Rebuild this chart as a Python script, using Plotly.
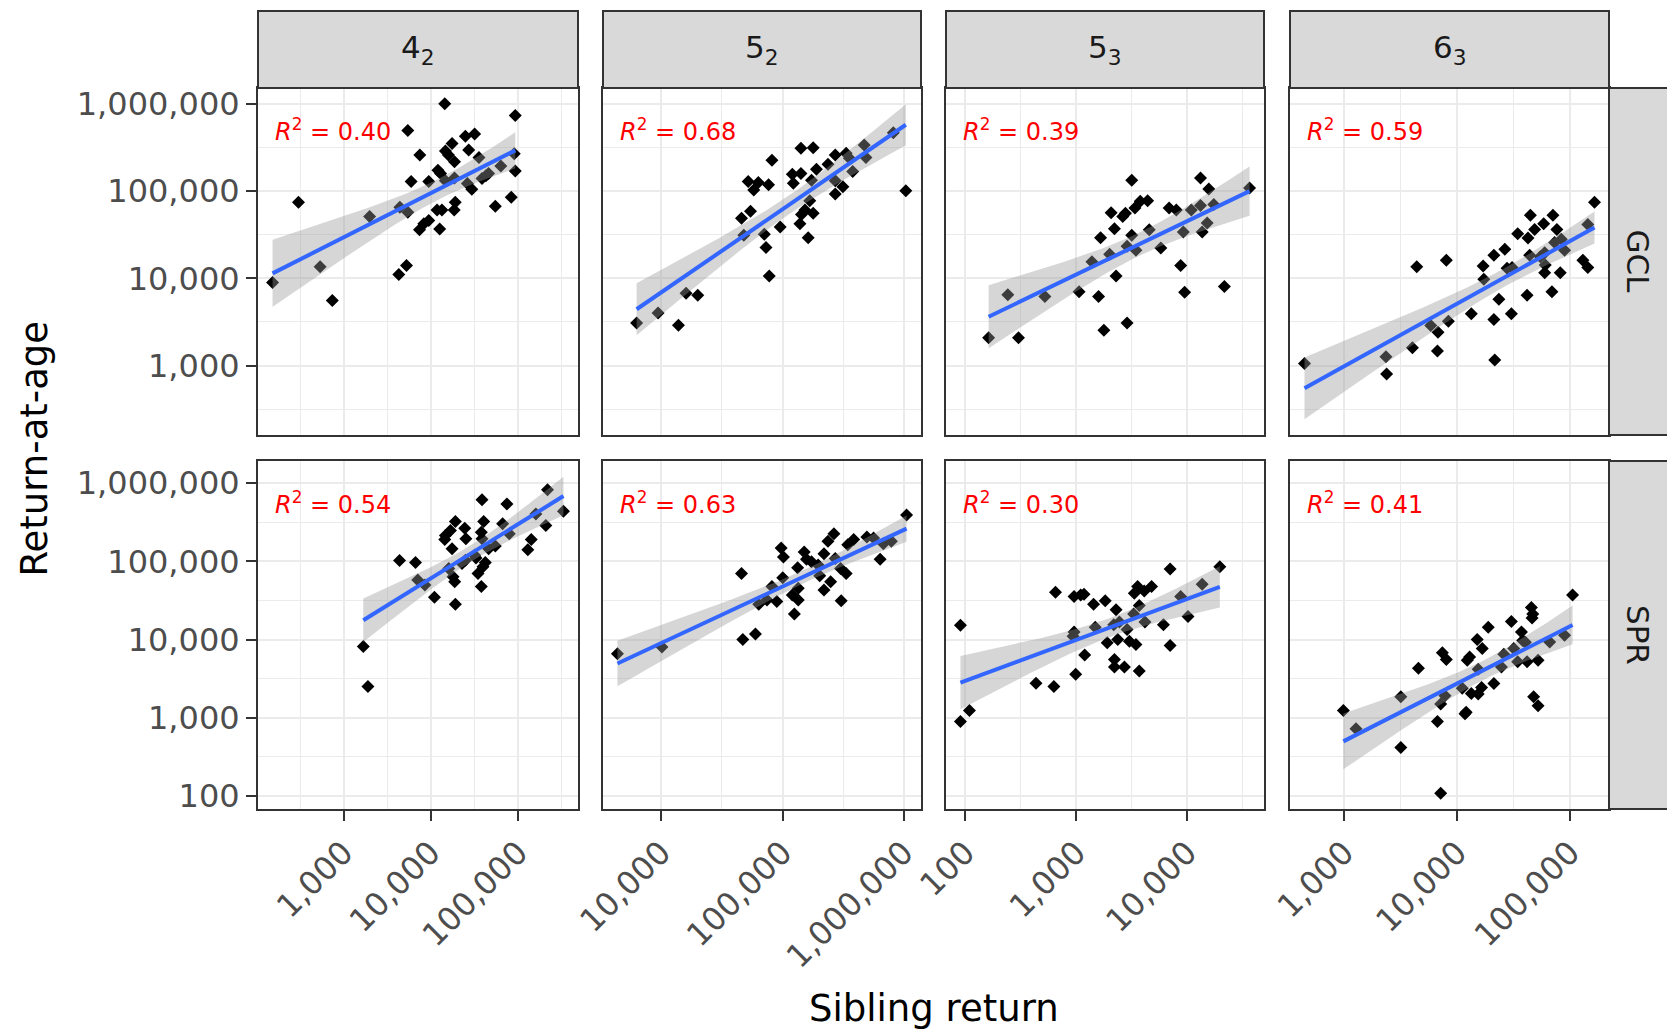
import numpy as np
import plotly.graph_objects as go

W, H = 1667, 1033

# ---------------- data (log10 of counts) ----------------
ROW_LABELS = ["GCL", "SPR"]
COL_LABELS = ["4<sub>2</sub>", "5<sub>2</sub>", "5<sub>3</sub>", "6<sub>3</sub>"]
R2_GCL = ["0.40", "0.68", "0.39", "0.59"]
R2_SPR = ["0.54", "0.63", "0.30", "0.41"]

X_TICKS = [[1e3, 1e4, 1e5], [1e4, 1e5, 1e6], [1e2, 1e3, 1e4], [1e3, 1e4, 1e5]]
Y_TICKS = [1e2, 1e3, 1e4, 1e5, 1e6]

GCL_42_sib_log10 = [4.158, 4.966, 3.735, 3.872, 4.242, 4.394, 4.50, 4.432, 4.166, 4.20, 4.27, 4.55, 4.954, 4.80, 4.966,
                    4.08, 4.11, 4.166, 4.27, 3.773, 3.975, 4.417, 4.468, 4.63, 4.66, 4.585, 4.92, 4.737, 4.278, 4.266,
                    4.126, 4.07, 3.735, 3.644, 3.975, 3.918, 3.869, 4.10, 3.297, 2.482, 3.72, 3.632, 2.73, 2.185, 2.87]
GCL_42_ret_log10 = [6.0, 5.867, 5.693, 5.413, 5.545, 5.629, 5.655, 5.47, 5.458, 5.413, 5.337, 5.383, 5.428, 5.288, 5.231,
                    5.239, 5.20, 5.117, 5.148, 5.11, 5.11, 5.087, 5.02, 5.174, 5.20, 5.144, 4.928, 4.826, 4.871, 4.784,
                    4.784, 4.784, 4.758, 4.814, 4.663, 4.625, 4.557, 4.564, 4.708, 4.871, 4.148, 4.045, 4.133, 3.951, 3.746]

GCL_52_sib_log10 = [3.796, 3.973, 4.141, 4.204, 4.30, 4.89, 4.863, 4.849, 4.68, 4.661, 4.735, 4.98, 4.912, 4.716, 4.80,
                    4.884, 4.762, 5.088, 5.151, 5.252, 5.151, 5.279, 5.238, 5.224, 5.184, 5.156, 5.143, 5.252, 5.211,
                    5.374, 5.434, 5.524, 5.434, 5.434, 5.497, 5.578, 5.551, 5.673, 5.687, 5.913, 6.016, 5.08]
GCL_52_ret_log10 = [3.489, 3.602, 3.462, 3.83, 3.807, 4.027, 4.352, 4.504, 4.492, 4.689, 4.769, 4.587, 5.352, 5.11, 5.098,
                    5.072, 5.011, 5.09, 5.489, 5.496, 5.201, 5.25, 5.125, 4.89, 4.784, 4.731, 4.625, 4.746, 4.466,
                    5.307, 5.413, 5.432, 5.117, 4.966, 5.049, 5.223, 5.375, 5.527, 5.383, 5.667, 5.004, 5.193]

GCL_53_sib_log10 = [2.209, 2.478, 2.382, 2.716, 3.024, 3.20, 3.248, 3.457, 3.358, 3.14, 3.30, 3.218, 3.343, 3.313, 3.418,
                    3.442, 3.499, 3.528, 3.576, 3.642, 3.499, 3.457, 3.537, 3.657, 3.761, 3.836, 3.901, 3.964, 3.94,
                    3.976, 4.036, 4.119, 4.119, 4.194, 4.239, 4.179, 4.134, 4.334, 4.561]
GCL_53_ret_log10 = [3.318, 3.318, 3.811, 3.792, 3.845, 3.792, 3.405, 3.489, 4.027, 4.189, 4.277, 4.466, 4.568, 4.75, 4.708,
                    4.746, 5.125, 4.807, 4.883, 4.89, 4.492, 4.367, 4.322, 4.557, 4.348, 4.807, 4.784, 4.53, 4.148,
                    3.841, 4.784, 4.833, 5.148, 5.023, 4.845, 4.633, 4.53, 3.905, 5.034]

GCL_63_sib_log10 = [2.647, 3.368, 3.374, 3.603, 3.824, 3.765, 3.829, 3.921, 3.641, 3.903, 4.124, 4.324, 4.332, 4.479, 4.368,
                    4.618, 4.838, 4.229, 4.235, 4.324, 4.421, 4.441, 4.485, 4.535, 4.626, 4.641, 4.647, 4.685, 4.765,
                    4.774, 4.779, 4.774, 4.847, 4.882, 4.862, 4.921, 4.95, 4.912, 5.112, 5.156, 5.156, 5.215, 4.735]
GCL_63_ret_log10 = [3.023, 3.102, 2.902, 3.205, 3.167, 3.458, 3.383, 3.508, 4.133, 4.208, 3.595, 3.527, 3.064, 3.595, 3.761,
                    3.807, 3.845, 4.14, 3.989, 4.265, 4.333, 4.114, 4.125, 4.511, 4.462, 4.265, 4.723, 4.56, 4.624,
                    4.292, 4.152, 4.064, 4.723, 4.56, 4.409, 4.447, 4.322, 4.064, 4.208, 4.125, 4.617, 4.871, 4.246]

SPR_42_sib_log10 = [3.225, 3.278, 3.64, 3.823, 3.849, 3.93, 4.04, 4.28, 4.272, 4.253, 4.204, 4.158, 4.223, 4.28, 4.242,
                    4.387, 4.40, 4.394, 4.50, 4.539, 4.516, 4.577, 4.585, 4.604, 4.577, 4.585, 4.623, 4.596, 4.661,
                    4.737, 4.821, 4.87, 4.897, 5.11, 5.149, 5.202, 5.316, 5.335, 5.518, 4.166, 4.356]
SPR_42_ret_log10 = [3.911, 3.40, 5.011, 4.985, 4.761, 4.698, 4.541, 4.452, 4.74, 4.803, 4.909, 5.281, 5.395, 5.51, 5.163,
                    5.425, 5.29, 5.015, 5.078, 4.846, 5.044, 4.677, 5.789, 5.51, 5.374, 5.29, 4.985, 4.93, 5.163,
                    5.197, 5.48, 5.734, 5.353, 5.15, 5.281, 5.607, 5.459, 5.915, 5.641, 5.332, 4.973]

SPR_52_sib_log10 = [3.638, 4.005, 4.672, 4.776, 4.661, 4.803, 4.871, 4.912, 4.952, 4.988, 5.007, 5.001, 5.097, 5.08, 5.129,
                    5.129, 5.124, 5.178, 5.197, 5.238, 5.306, 5.341, 5.396, 5.341, 5.374, 5.423, 5.434, 5.478, 5.524,
                    5.483, 5.537, 5.586, 5.695, 5.75, 5.804, 5.831, 5.897, 6.022, 5.293]
SPR_52_ret_log10 = [3.818, 3.903, 4.0, 4.072, 4.846, 4.452, 4.507, 4.677, 4.486, 5.171, 5.057, 4.791, 4.326, 4.571, 4.507,
                    4.655, 4.917, 5.12, 5.027, 4.994, 4.816, 4.634, 4.74, 5.099, 5.256, 5.353, 5.036, 4.909, 4.846,
                    4.495, 5.214, 5.281, 5.311, 5.298, 5.027, 5.226, 5.256, 5.594, 4.952]

SPR_53_sib_log10 = [1.955, 1.955, 2.036, 2.636, 2.797, 2.812, 2.979, 3.039, 3.069, 2.979, 2.97, 3.075, 2.994, 3.155, 3.17,
                    3.26, 3.358, 3.278, 3.337, 3.388, 3.373, 3.457, 3.478, 3.537, 3.343, 3.343, 3.433, 3.567, 3.516,
                    3.567, 3.522, 3.552, 3.612, 3.678, 3.618, 3.785, 3.845, 3.845, 3.94, 4.006, 4.134, 4.293]
SPR_53_ret_log10 = [4.182, 2.951, 3.091, 3.442, 3.40, 4.605, 4.55, 4.571, 4.579, 4.097, 4.042, 3.801, 3.556, 4.452, 4.156,
                    4.495, 4.381, 3.958, 4.19, 4.224, 4.0, 4.127, 3.979, 3.937, 3.746, 3.649, 3.649, 3.598, 4.326,
                    4.436, 4.592, 4.677, 4.622, 4.677, 4.224, 4.19, 4.901, 3.924, 4.55, 4.296, 4.706, 4.93]

SPR_63_sib_log10 = [2.991, 3.103, 3.50, 3.50, 3.656, 3.824, 3.853, 3.891, 3.868, 3.903, 3.853, 4.044, 4.068, 4.079, 4.088,
                    4.109, 4.124, 4.185, 4.215, 4.185, 4.176, 4.221, 4.274, 4.324, 4.391, 4.412, 4.479, 4.50, 4.535,
                    4.568, 4.579, 4.618, 4.656, 4.662, 4.676, 4.715, 4.715, 4.818, 4.95, 5.021, 4.668, 4.603]
SPR_63_ret_log10 = [3.091, 2.858, 3.268, 2.617, 3.632, 2.951, 3.175, 3.281, 3.831, 3.746, 2.034, 3.378, 3.049, 3.07, 3.734,
                    3.776, 3.311, 3.302, 3.387, 3.62, 4.0, 3.886, 4.156, 3.438, 3.649, 3.81, 4.232, 3.886, 3.717,
                    4.097, 3.987, 3.717, 4.411, 4.275, 3.268, 3.154, 3.734, 3.967, 4.055, 4.571, 4.326, 3.966]

PANELS = [
    [(GCL_42_sib_log10, GCL_42_ret_log10), (GCL_52_sib_log10, GCL_52_ret_log10),
     (GCL_53_sib_log10, GCL_53_ret_log10), (GCL_63_sib_log10, GCL_63_ret_log10)],
    [(SPR_42_sib_log10, SPR_42_ret_log10), (SPR_52_sib_log10, SPR_52_ret_log10),
     (SPR_53_sib_log10, SPR_53_ret_log10), (SPR_63_sib_log10, SPR_63_ret_log10)],
]
R2 = [R2_GCL, R2_SPR]

# ---------------- layout geometry (pixels) ----------------
COL_L = [258, 603, 946, 1290]
COL_R = [578, 921, 1264, 1609]
ROW_T = [88, 461]
ROW_B = [435, 809]
STRIP_TOP = 11
STRIP_RIGHT = 1667

FONT = "DejaVu Sans"
GRID = "#EBEBEB"
DARK = "#333333"


def px(x):
    return x / W


def py(y):
    return 1 - y / H


def t975(df):
    z = 1.959963985
    g1 = (z ** 3 + z) / 4
    g2 = (5 * z ** 5 + 16 * z ** 3 + 3 * z) / 96
    g3 = (3 * z ** 7 + 19 * z ** 5 + 17 * z ** 3 - 15 * z) / 384
    return z + g1 / df + g2 / df ** 2 + g3 / df ** 3


def smooth(lx, ly):
    lx = np.asarray(lx, float)
    ly = np.asarray(ly, float)
    n = len(lx)
    b, a = np.polyfit(lx, ly, 1)
    resid = ly - (a + b * lx)
    s = np.sqrt(np.sum(resid ** 2) / (n - 2))
    xb = lx.mean()
    sxx = np.sum((lx - xb) ** 2)
    xs = np.linspace(lx.min(), lx.max(), 80)
    yh = a + b * xs
    se = s * np.sqrt(1 / n + (xs - xb) ** 2 / sxx)
    t = t975(n - 2)
    return xs, yh, yh - t * se, yh + t * se


fits = [[smooth(*PANELS[r][c]) for c in range(4)] for r in range(2)]

# scale ranges (free per column / per row, 5% expansion like ggplot)
xr = []
for c in range(4):
    vals = np.concatenate([np.asarray(PANELS[r][c][0]) for r in range(2)])
    lo, hi = vals.min(), vals.max()
    d = (hi - lo) * 0.05
    xr.append([lo - d, hi + d])
yr = []
for r in range(2):
    vals = np.concatenate([np.asarray(PANELS[r][c][1]) for c in range(4)] +
                          [fits[r][c][2] for c in range(4)] + [fits[r][c][3] for c in range(4)])
    lo, hi = vals.min(), vals.max()
    d = (hi - lo) * 0.05
    yr.append([lo - d, hi + d])

MINOR = [10 ** (k + 0.5) for k in range(0, 7)]


def fmt(v):
    return f"{int(round(v)):,}"


fig = go.Figure()
layout = dict(width=W, height=H, margin=dict(l=0, r=0, t=0, b=0, pad=0, autoexpand=False),
              paper_bgcolor="white", plot_bgcolor="white", showlegend=False,
              font=dict(family=FONT, color="#4D4D4D"))
annotations = []
shapes = []

for r in range(2):
    for c in range(4):
        idx = r * 4 + c + 1
        xk = "xaxis" if idx == 1 else f"xaxis{idx}"
        yk = "yaxis" if idx == 1 else f"yaxis{idx}"
        xref = "x" if idx == 1 else f"x{idx}"
        yref = "y" if idx == 1 else f"y{idx}"
        show_x = (r == 1)
        show_y = (c == 0)
        layout[xk] = dict(
            type="log", range=xr[c], domain=[px(COL_L[c]), px(COL_R[c])], anchor=yref, automargin=False,
            tickvals=X_TICKS[c], ticktext=[fmt(v) for v in X_TICKS[c]],
            showticklabels=show_x, ticks="outside" if show_x else "", ticklen=10, tickwidth=2, tickcolor=DARK,
            tickangle=-45, tickfont=dict(family=FONT, size=32, color="#4D4D4D"),
            showgrid=True, gridcolor=GRID, gridwidth=2.4, zeroline=False,
            showline=True, linecolor=DARK, linewidth=2, mirror=True,
            minor=dict(tickvals=MINOR, showgrid=True, gridcolor=GRID, gridwidth=1.2, ticks=""),
        )
        layout[yk] = dict(
            type="log", range=yr[r], domain=[py(ROW_B[r]), py(ROW_T[r])], anchor=xref, automargin=False,
            tickvals=Y_TICKS, ticktext=[fmt(v) for v in Y_TICKS],
            showticklabels=show_y, ticks="outside" if show_y else "", ticklen=10, tickwidth=2, tickcolor=DARK,
            tickfont=dict(family=FONT, size=32, color="#4D4D4D"),
            showgrid=True, gridcolor=GRID, gridwidth=2.4, zeroline=False,
            showline=True, linecolor=DARK, linewidth=2, mirror=True,
            minor=dict(tickvals=MINOR, showgrid=True, gridcolor=GRID, gridwidth=1.2, ticks=""),
        )

        lx, ly = PANELS[r][c]
        fig.add_trace(go.Scatter(
            x=10 ** np.asarray(lx), y=10 ** np.asarray(ly), mode="markers",
            marker=dict(symbol="diamond", size=10, color="black", line=dict(width=0)),
            xaxis=xref, yaxis=yref, hoverinfo="skip"))
        xs, yh, lo, hi = fits[r][c]
        fig.add_trace(go.Scatter(
            x=10 ** np.concatenate([xs, xs[::-1]]), y=10 ** np.concatenate([hi, lo[::-1]]),
            mode="lines", fill="toself", fillcolor="rgba(153,153,153,0.4)", line=dict(width=0),
            xaxis=xref, yaxis=yref, hoverinfo="skip"))
        fig.add_trace(go.Scatter(
            x=10 ** xs, y=10 ** yh, mode="lines", line=dict(color="#3366FF", width=4),
            xaxis=xref, yaxis=yref, hoverinfo="skip"))

        annotations.append(dict(
            x=px(COL_L[c] + 15), y=py(ROW_T[r] + 42), xref="paper", yref="paper",
            xanchor="left", yanchor="middle", showarrow=False,
            text=f"<i>R</i><sup>2</sup> = {R2[r][c]}", font=dict(family=FONT, size=24, color="#FF0000")))

# top strips
for c in range(4):
    shapes.append(dict(type="rect", xref="paper", yref="paper",
                       x0=px(COL_L[c]), x1=px(COL_R[c]), y0=py(ROW_T[0]), y1=py(STRIP_TOP),
                       fillcolor="#D9D9D9", line=dict(color=DARK, width=2), layer="above"))
    annotations.append(dict(x=px((COL_L[c] + COL_R[c]) / 2), y=py((STRIP_TOP + ROW_T[0]) / 2),
                            xref="paper", yref="paper", showarrow=False, xanchor="center", yanchor="middle",
                            text=COL_LABELS[c], font=dict(family=FONT, size=31, color="#1A1A1A")))
# right strips
for r in range(2):
    shapes.append(dict(type="rect", xref="paper", yref="paper",
                       x0=px(COL_R[3]), x1=px(STRIP_RIGHT + 3), y0=py(ROW_B[r]), y1=py(ROW_T[r]),
                       fillcolor="#D9D9D9", line=dict(color=DARK, width=2), layer="above"))
    annotations.append(dict(x=px((COL_R[3] + STRIP_RIGHT) / 2), y=py((ROW_T[r] + ROW_B[r]) / 2),
                            xref="paper", yref="paper", showarrow=False, xanchor="center", yanchor="middle",
                            textangle=90, text=ROW_LABELS[r], font=dict(family=FONT, size=31, color="#1A1A1A")))

# axis titles
annotations.append(dict(x=px(34), y=py((ROW_T[0] + ROW_B[1]) / 2), xref="paper", yref="paper",
                        showarrow=False, textangle=-90, xanchor="center", yanchor="middle",
                        text="Return-at-age", font=dict(family=FONT, size=37, color="black")))
annotations.append(dict(x=px((COL_L[0] + COL_R[3]) / 2), y=py(1008), xref="paper", yref="paper",
                        showarrow=False, xanchor="center", yanchor="middle",
                        text="Sibling return", font=dict(family=FONT, size=37, color="black")))

layout["annotations"] = annotations
layout["shapes"] = shapes
fig.update_layout(**layout)
fig.write_html("out.html")
